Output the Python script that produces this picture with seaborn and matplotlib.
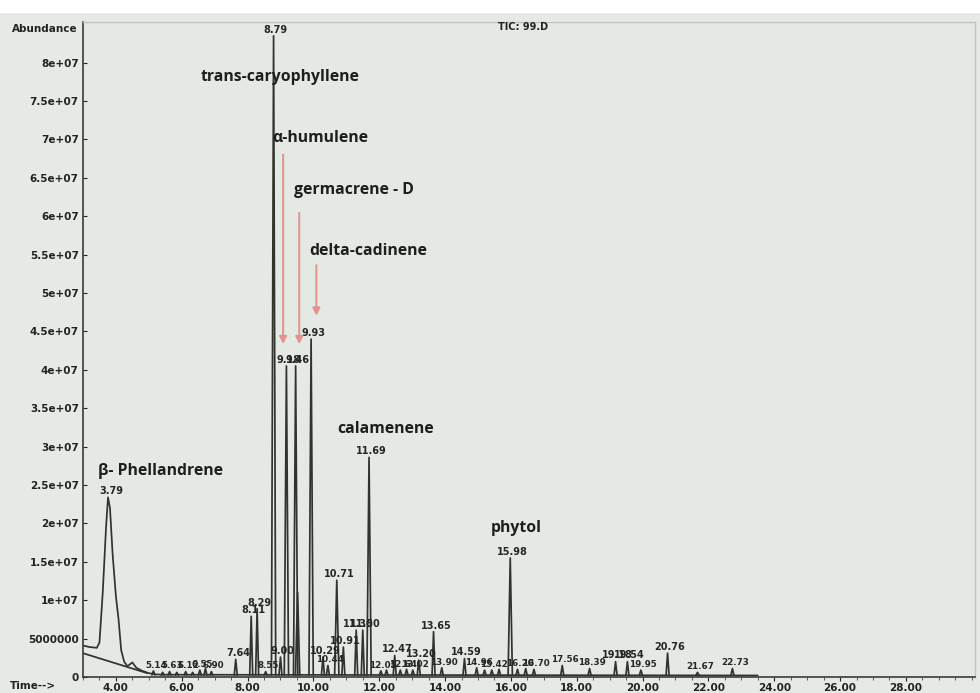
import matplotlib
matplotlib.use("Agg")
import matplotlib.pyplot as plt
import matplotlib.patches as mpatches
from matplotlib.ticker import MultipleLocator, FormatStrFormatter
import numpy as np
import pandas as pd
import seaborn as sns

# early part of the trace (beta-phellandrene hump + 4.50 bump)
early_time = [3.00, 3.20, 3.42, 3.50, 3.60, 3.70, 3.76, 3.82, 3.90, 4.00, 4.08,
              4.16, 4.25, 4.35, 4.50, 4.62, 4.80, 5.00, 5.20, 5.40]
early_abund = [4.1e6, 3.9e6, 3.8e6, 4.5e6, 1.1e7, 1.95e7, 2.34e7, 2.2e7, 1.6e7,
               1.05e7, 7.5e6, 3.5e6, 2.0e6, 1.4e6, 1.9e6, 1.2e6, 0.8e6, 0.5e6,
               0.35e6, 0.3e6]

# straight drift line under the first peak
drift_time = [3.00, 4.95]
drift_abund = [3.1e6, 0.5e6]

# flat baseline for the rest of the run
base_time = [5.40, 23.5]
base_abund = [3e5, 2e5]

# sharp peaks: retention time, apex abundance, printed label
peak_time = [5.14, 5.42, 5.63, 5.85, 6.12, 6.33, 6.55, 6.72, 6.90, 7.64,
             8.11, 8.29, 8.55, 8.79, 9.00, 9.18, 9.46, 9.52, 9.93, 10.29,
             10.44, 10.71, 10.91, 11.30, 11.50, 11.69, 12.05, 12.22, 12.47, 12.64,
             12.83, 13.02, 13.20, 13.65, 13.90, 14.59, 14.96, 15.20, 15.42, 15.64,
             15.98, 16.20, 16.45, 16.70, 17.56, 18.39, 19.18, 19.54, 19.95, 20.76,
             21.67, 22.73]
peak_height = [0.8e6, 0.6e6, 0.7e6, 0.6e6, 0.7e6, 0.6e6, 0.9e6, 1.1e6, 0.7e6, 2.3e6,
               7.9e6, 8.9e6, 0.7e6, 8.35e7, 2.6e6, 4.05e7, 4.05e7, 1.1e7, 4.4e7, 2.6e6,
               1.5e6, 1.26e7, 3.9e6, 6.1e6, 6.1e6, 2.86e7, 0.8e6, 0.9e6, 2.8e6, 0.9e6,
               1.0e6, 0.9e6, 2.2e6, 5.9e6, 1.2e6, 2.4e6, 1.2e6, 0.9e6, 0.9e6, 1.0e6,
               1.55e7, 1.0e6, 1.1e6, 1.0e6, 1.5e6, 1.1e6, 2.0e6, 2.0e6, 0.9e6, 3.1e6,
               0.6e6, 1.1e6]
peak_label = ["5.14", "", "5.63", "", "6.12", "", "6.55", "", "6.90", "7.64",
              "8.11", "8.29", "8.55", "8.79", "9.00", "9.18", "9.46", "", "9.93", "10.29",
              "10.44", "10.71", "10.91", "11.30", "11.50", "11.69", "12.05", "", "12.47", "12.64",
              "", "13.02", "13.20", "13.65", "13.90", "14.59", "14.96", "", "15.42", "",
              "15.98", "16.20", "", "16.70", "17.56", "18.39", "19.18", "19.54", "19.95", "20.76",
              "21.67", "22.73"]

# identified compounds
compound_names = ["β- Phellandrene", "trans-caryophyllene", "α-humulene",
                  "germacrene - D", "delta-cadinene", "calamenene", "phytol"]

y_ticks = [0, 5e6, 1e7, 1.5e7, 2e7, 2.5e7, 3e7, 3.5e7, 4e7, 4.5e7, 5e7,
           5.5e7, 6e7, 6.5e7, 7e7, 7.5e7, 8e7]
y_tick_labels = ["0", "5000000", "1e+07", "1.5e+07", "2e+07", "2.5e+07", "3e+07",
                 "3.5e+07", "4e+07", "4.5e+07", "5e+07", "5.5e+07", "6e+07",
                 "6.5e+07", "7e+07", "7.5e+07", "8e+07"]

# build long-form table, one unit per drawn segment
base_lvl = 2.5e5
rows = []
for t, a in zip(early_time, early_abund):
    rows.append(("early", t, a))
for t, a in zip(drift_time, drift_abund):
    rows.append(("drift", t, a))
for t, a in zip(base_time, base_abund):
    rows.append(("base", t, a))
for i, (t, h) in enumerate(zip(peak_time, peak_height)):
    w = 0.065 if h > 1e7 else 0.045
    rows.append((f"p{i}", t - w, base_lvl))
    rows.append((f"p{i}", t, h))
    rows.append((f"p{i}", t + w, base_lvl))
df = pd.DataFrame(rows, columns=["trace", "time", "abundance"])

sns.set_theme(style="white")
plt.rcParams["font.family"] = ["DejaVu Sans"]

bg = "#e4e9e3"
fig = plt.figure(figsize=(9.8, 6.93), dpi=100, facecolor="#e6eae5")
fig.add_artist(mpatches.Rectangle((0, 1 - 12 / 693), 1, 12 / 693,
                                  transform=fig.transFigure, color="white", zorder=0))
ax = fig.add_axes([83 / 980, 16 / 693, 892 / 980, 655 / 693])
ax.set_facecolor(bg)

sns.lineplot(data=df, x="time", y="abundance", units="trace", estimator=None,
             color="#30332e", lw=1.25, ax=ax, legend=False)

ax.set_xlim(3.0, 30.1)
ax.set_ylim(0, 8.53e7)

# peak labels
lab_kw = dict(ha="center", va="bottom", weight="bold", color="#262626")
for t, h, lab in zip(peak_time, peak_height, peak_label):
    if lab:
        fs = 7 if h > 1.8e6 else 6.3
        ax.text(t + 0.07, h + 1.5e5, lab, fontsize=fs, clip_on=False, **lab_kw)
i_max = int(np.argmax(early_abund))
ax.text(early_time[i_max] + 0.1, early_abund[i_max] + 1.5e5, "3.79", fontsize=7, **lab_kw)

# compound names
name_pos = [(3.45, 2.68e7), (6.56, 7.81e7), (8.75, 7.02e7), (9.42, 6.34e7),
            (9.87, 5.55e7), (10.73, 3.23e7), (15.38, 1.94e7)]
for name, (x, y) in zip(compound_names, name_pos):
    ax.text(x, y, name, ha="left", va="center", fontsize=11.3, weight="bold",
            family=["Open Sans", "DejaVu Sans"], color="#1e1e1e")

# red arrows
arrow_kw = dict(arrowstyle="-|>", color="#e3928c", lw=1.4, mutation_scale=11)
for x, y0, y1 in [(9.08, 6.84e7, 4.30e7), (9.57, 6.08e7, 4.30e7), (10.09, 5.40e7, 4.67e7)]:
    ax.annotate("", xy=(x, y1), xytext=(x, y0), arrowprops=arrow_kw)

# axes styling
ax.set_yticks(y_ticks)
ax.set_yticklabels(y_tick_labels)
ax.xaxis.set_major_locator(MultipleLocator(2))
ax.xaxis.set_minor_locator(MultipleLocator(0.5))
ax.xaxis.set_major_formatter(FormatStrFormatter("%.2f"))
ax.set_xticks([t for t in range(4, 30, 2)])
ax.tick_params(axis="y", direction="in", length=3, width=0.8, pad=3,
               labelsize=7.5, left=True, colors="#222222")
ax.tick_params(axis="x", which="major", direction="out", length=3, width=0.8,
               pad=1.5, labelsize=7.5, bottom=True, colors="#222222")
ax.tick_params(axis="x", which="minor", direction="out", length=2, width=0.6,
               bottom=True, color="#444444")
for lab in ax.get_xticklabels() + ax.get_yticklabels():
    lab.set_fontweight("bold")
ax.set_xlabel("")
ax.set_ylabel("")
for side in ["left", "bottom"]:
    ax.spines[side].set_color("#3a3a3a")
    ax.spines[side].set_linewidth(1.2)
for side in ["top", "right"]:
    ax.spines[side].set_color("#bfc3be")
    ax.spines[side].set_linewidth(1.0)

fig.text(12 / 980, 1 - 29 / 693, "Abundance", fontsize=7.5, weight="bold",
         va="center", ha="left", color="#222222")
fig.text(10 / 980, 1 - 686 / 693, "Time-->", fontsize=7.5, weight="bold",
         va="center", ha="left", color="#222222")
fig.text(498 / 980, 1 - 27 / 693, "TIC: 99.D", fontsize=7, weight="bold",
         va="center", ha="left", color="#222222")

fig.savefig("out.png", dpi=100, facecolor=fig.get_facecolor())
